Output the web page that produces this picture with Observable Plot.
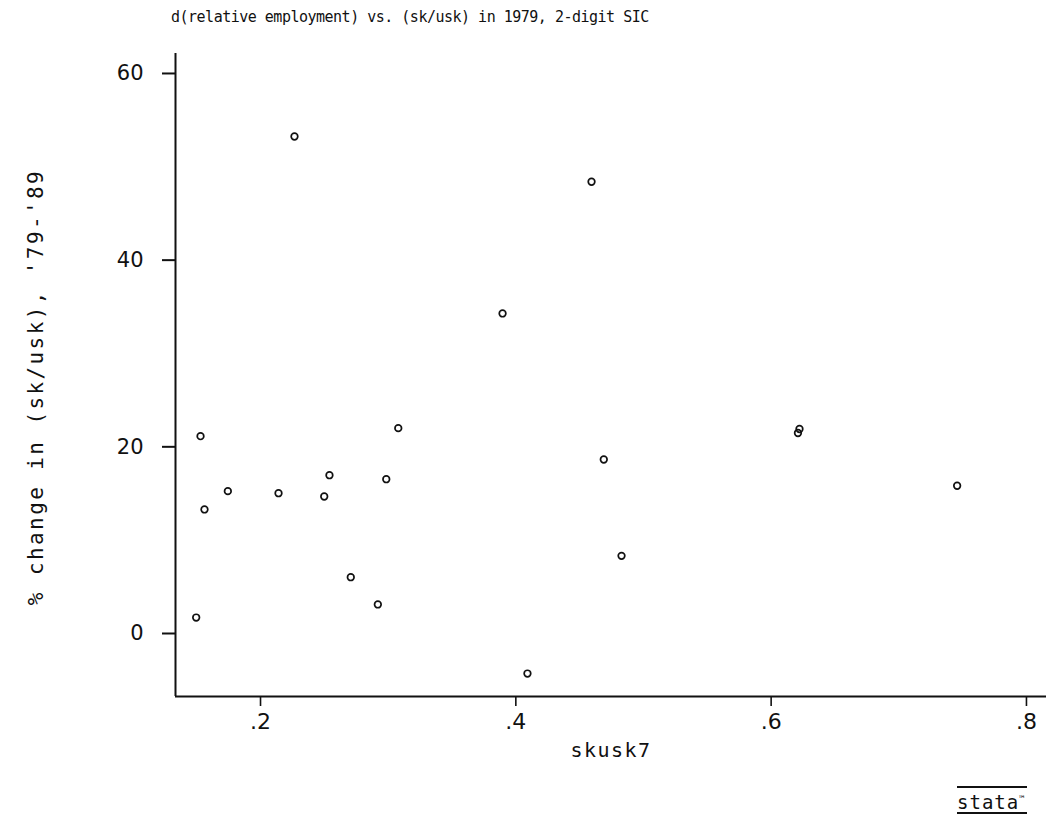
<!DOCTYPE html>
<html>
<head>
<meta charset="utf-8">
<script src="https://cdn.jsdelivr.net/npm/d3@7"></script>
<script src="https://cdn.jsdelivr.net/npm/@observablehq/plot@0.6"></script>
<style>
  html, body { margin: 0; padding: 0; background: white; }
  #wrap { position: relative; width: 1053px; height: 824px; background: white; }
  #title { height: 32px; padding-top: 4px; line-height: 26px; padding-left: 171px;
           font-family: "DejaVu Sans Mono", monospace; font-size: 15px; letter-spacing: -0.5px;
           color: #111; white-space: nowrap; }
  #logo { position: absolute; left: 957px; top: 786px; width: 70px; height: 24px;
          border-top: 2px solid #111; border-bottom: 2px solid #111;
          font-family: "DejaVu Sans Mono", monospace; font-size: 19px; line-height: 22px;
          letter-spacing: 1px; color: #111; }
  #logo sup { font-size: 9px; letter-spacing: 0; }
</style>
</head>
<body>
<div id="wrap">
  <div id="title"></div>
  <div id="chart"></div>
  <div id="logo">stata<sup>™</sup></div>
</div>
<script>
const titleText = "d(relative employment) vs. (sk/usk) in 1979, 2-digit SIC";
const xLabel = "skusk7";
const yLabel = "% change in (sk/usk), '79-'89";

// skusk7 values
const xVals = [0.1496, 0.1530, 0.1561, 0.1744, 0.2141, 0.2266, 0.2499, 0.2540, 0.2707, 0.2919,
               0.2985, 0.3079, 0.3896, 0.4091, 0.4593, 0.4689, 0.4828, 0.6222, 0.6210, 0.7457];
// % change in (sk/usk), '79-'89
const yVals = [1.71, 21.14, 13.29, 15.25, 15.03, 53.25, 14.68, 16.96, 6.03, 3.11,
               16.53, 22.0, 34.29, -4.29, 48.4, 18.64, 8.32, 21.91, 21.48, 15.83];

const xTicks = [0.2, 0.4, 0.6, 0.8];
const yTicks = [0, 20, 40, 60];
const xDomain = [0.1334, 0.8157];
const yDomain = [-6.75, 62.14];

const data = xVals.map((x, i) => ({x, y: yVals[i]}));

document.getElementById("title").textContent = titleText;

const chart = Plot.plot({
  width: 1053,
  height: 748,
  marginTop: 17,
  marginBottom: 88,
  marginLeft: 175,
  marginRight: 7,
  x: {domain: xDomain},
  y: {domain: yDomain},
  style: {fontFamily: "DejaVu Sans", fontSize: "21px", color: "#111", background: "white"},
  marks: [
    Plot.ruleX([xDomain[0]], {stroke: "#111", strokeWidth: 2}),
    Plot.ruleY([yDomain[0]], {stroke: "#111", strokeWidth: 2}),
    Plot.axisX({ticks: xTicks, tickSize: 10, tickPadding: 7, strokeWidth: 1.6,
                tickFormat: d => d.toFixed(1).replace(/^0/, ""), label: null, fontSize: 22}),
    Plot.axisY({ticks: yTicks, tickSize: 13, tickPadding: 19, strokeWidth: 2, label: null}),
    Plot.dot(data, {x: "x", y: "y", r: 3.3, stroke: "#111", strokeWidth: 1.7, fill: "none"}),
    Plot.text([xLabel], {frameAnchor: "bottom", dy: 54, lineAnchor: "middle",
                         fontFamily: "DejaVu Sans Mono", fontSize: 20, fill: "#111"}),
    Plot.text([yLabel], {frameAnchor: "left", dx: -139, dy: 12, rotate: -90,
                         textAnchor: "middle", lineAnchor: "middle",
                         fontFamily: "DejaVu Sans Mono", fontSize: 21, fill: "#111"})
  ]
});

// letter spacing to match the wide Stata font
chart.querySelectorAll("text").forEach(t => {
  if (t.textContent === xLabel) t.setAttribute("letter-spacing", "1.5");
  if (t.textContent === yLabel) t.setAttribute("letter-spacing", "2.4");
});
document.getElementById("chart").appendChild(chart);
</script>
</body>
</html>
